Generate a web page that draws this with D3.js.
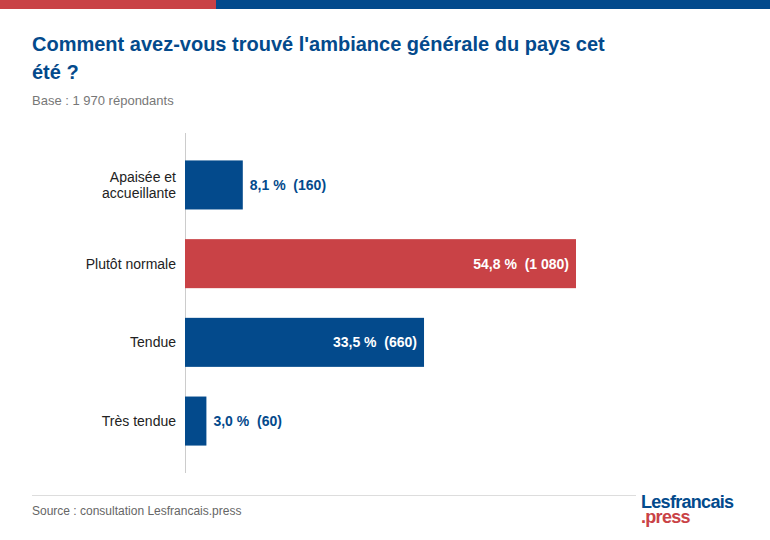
<!DOCTYPE html><html><head><meta charset="utf-8"><script src="https://cdn.jsdelivr.net/npm/d3@7"></script>
<style>body{margin:0;background:#fff}svg{display:block;font-family:Arial,"Liberation Sans",sans-serif}</style></head><body>
<script>
const categories=[["Apaisée et","accueillante"],["Plutôt normale"],["Tendue"],["Très tendue"]];
const percents=[8.1,54.8,33.5,3.0];
const counts=["160","1 080","660","60"];
const highlight=[false,true,false,false];
const W=770,H=540,blue="#034a8c",red="#c94246";
const svg=d3.select("body").append("svg").attr("width",W).attr("height",H);
svg.append("rect").attr("x",0).attr("y",0).attr("width",216).attr("height",9).attr("fill",red);
svg.append("rect").attr("x",216).attr("y",0).attr("width",W-216).attr("height",9).attr("fill",blue);
const t=svg.append("text").attr("fill",blue).attr("font-size",20).attr("font-weight","bold");
t.append("tspan").attr("x",32).attr("y",51).text("Comment avez-vous trouvé l'ambiance générale du pays cet");
t.append("tspan").attr("x",32).attr("y",79).text("été ?");
svg.append("text").attr("x",32).attr("y",105).attr("fill","#777").attr("font-size",13).text("Base : 1 970 répondants");
const x=d3.scaleLinear().domain([0,54.8]).range([185,576]);
const y=d3.scaleBand().domain(d3.range(4)).range([145.6,460.4]).paddingInner(0.377).paddingOuter(0.1885);
svg.append("line").attr("x1",185.5).attr("x2",185.5).attr("y1",133).attr("y2",473).attr("stroke","#ccc");
const g=svg.selectAll("g.b").data(percents).join("g");
g.append("rect").attr("x",x(0)).attr("y",(d,i)=>y(i)).attr("width",d=>x(d)-x(0)).attr("height",y.bandwidth()).attr("fill",(d,i)=>highlight[i]?red:blue);
g.append("text").attr("font-size",14).attr("font-weight","bold").attr("dominant-baseline","central")
 .attr("y",(d,i)=>y(i)+y.bandwidth()/2)
 .each(function(d,i){const inside=x(d)-x(0)>150;d3.select(this).attr("x",inside?x(d)-7:x(d)+7).attr("text-anchor",inside?"end":"start").attr("fill",inside?"#fff":blue)})
 .text((d,i)=>d3.format(".1f")(d).replace(".",",")+" %\u00a0 ("+counts[i]+")");
categories.forEach((c,i)=>{const cy=y(i)+y.bandwidth()/2;c.forEach((s,j)=>svg.append("text").attr("x",176).attr("y",cy+(j-(c.length-1)/2)*16).attr("text-anchor","end").attr("dominant-baseline","central").attr("font-size",14).attr("fill","#222").text(s));});
svg.append("line").attr("x1",32).attr("x2",636).attr("y1",495.5).attr("y2",495.5).attr("stroke","#ddd");
svg.append("text").attr("x",32).attr("y",515).attr("fill","#666").attr("font-size",12).text("Source : consultation Lesfrancais.press");
svg.append("text").attr("x",641).attr("y",508).attr("fill",blue).attr("font-size",18).attr("font-weight","bold").attr("letter-spacing",-0.7).text("Lesfrancais");
svg.append("text").attr("x",641).attr("y",523).attr("fill",red).attr("font-size",18).attr("font-weight","bold").attr("letter-spacing",-0.7).text(".press");
</script></body></html>
